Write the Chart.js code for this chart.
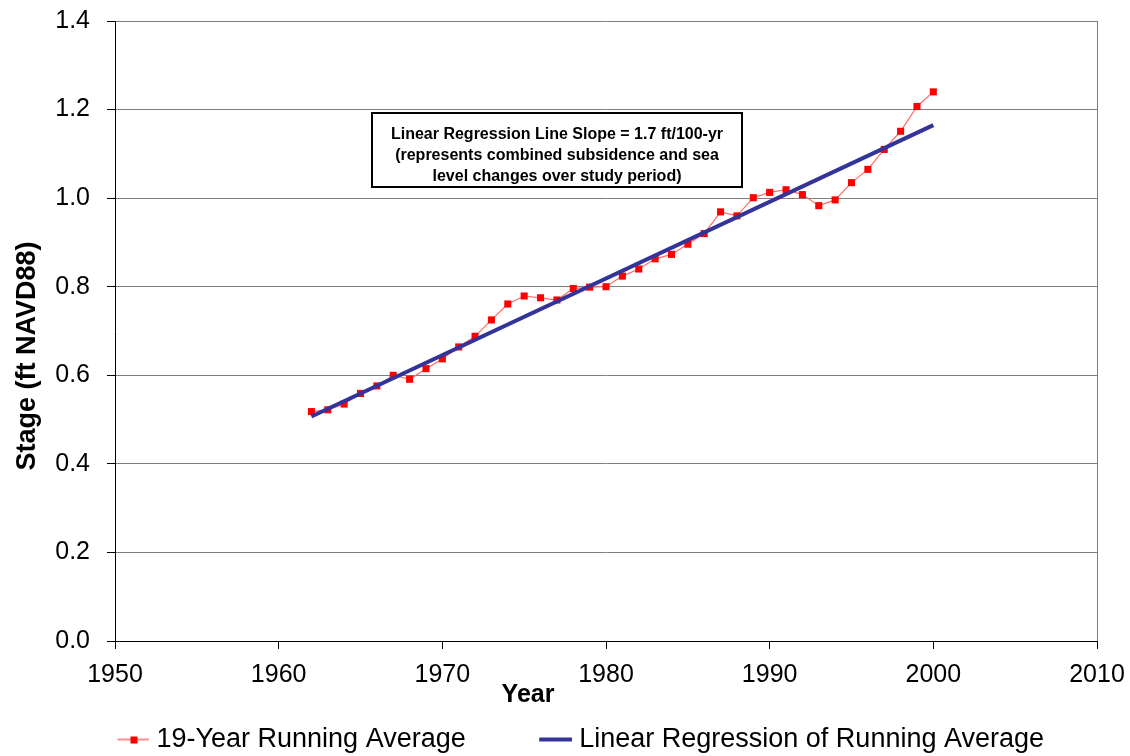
<!DOCTYPE html>
<html>
<head>
<meta charset="utf-8">
<script src="https://cdn.jsdelivr.net/npm/chart.js@4.4.0/dist/chart.umd.min.js"></script>
<style>
  html, body { margin: 0; padding: 0; background: #ffffff; }
  #wrap { width: 1130px; height: 756px; }
</style>
</head>
<body>
<div id="wrap"><canvas id="chart" width="1130" height="756"></canvas></div>
<script>
// Stage record, 19-year running average (ft NAVD88)
const years = [1962, 1963, 1964, 1965, 1966, 1967, 1968, 1969, 1970, 1971,
               1972, 1973, 1974, 1975, 1976, 1977, 1978, 1979, 1980, 1981,
               1982, 1983, 1984, 1985, 1986, 1987, 1988, 1989, 1990, 1991,
               1992, 1993, 1994, 1995, 1996, 1997, 1998, 1999, 2000];
const runningAverage = [0.518, 0.522, 0.535, 0.559, 0.576, 0.600, 0.591, 0.615, 0.637, 0.664,
                        0.688, 0.725, 0.761, 0.779, 0.775, 0.770, 0.796, 0.799, 0.800, 0.824,
                        0.840, 0.863, 0.873, 0.896, 0.920, 0.969, 0.960, 1.001, 1.013, 1.019,
                        1.008, 0.983, 0.996, 1.035, 1.065, 1.110, 1.151, 1.207, 1.240];

// Fitted regression line, end points
const regressionYears = [1962, 2000];
const regressionStage = [0.507, 1.165];

// Axis ticks
const xTickValues = [1950, 1960, 1970, 1980, 1990, 2000, 2010];
const yTickValues = [0.0, 0.2, 0.4, 0.6, 0.8, 1.0, 1.2, 1.4];

const seriesNames = ['19-Year Running Average', 'Linear Regression of Running Average'];
const xTitle = 'Year';
const yTitle = 'Stage (ft NAVD88)';
const noteLines = [
  'Linear Regression Line Slope = 1.7 ft/100-yr',
  '(represents combined subsidence and sea',
  'level changes over study period)'
];

const FONT = '"Liberation Sans", Arial, Helvetica, sans-serif';
const RED = '#ff0000';
const RED_LINE = '#ff6a6a';
const NAVY = '#333399';
const GRID = '#7f7f7f';

// Legend swatches: short line segment drawn at the right end of a wide transparent strip
function swatch(kind) {
  const c = document.createElement('canvas');
  c.width = 103; c.height = 12;
  const g = c.getContext('2d');
  if (kind === 'avg') {
    g.strokeStyle = RED_LINE; g.lineWidth = 1.5;
    g.beginPath(); g.moveTo(71, 6); g.lineTo(103, 6); g.stroke();
    g.fillStyle = RED; g.fillRect(84, 3, 7, 7);
  } else {
    g.strokeStyle = NAVY; g.lineWidth = 4;
    g.beginPath(); g.moveTo(70, 6); g.lineTo(103, 6); g.stroke();
  }
  return c;
}
const swatches = [swatch('avg'), swatch('reg')];

// Axis titles and the boxed note
const decorations = {
  id: 'decorations',
  afterDraw(chart) {
    const ctx = chart.ctx;
    const area = chart.chartArea;
    ctx.save();
    ctx.fillStyle = '#000';
    ctx.font = 'bold 27px ' + FONT;
    ctx.textAlign = 'center';
    ctx.textBaseline = 'middle';
    ctx.translate(28, 356);
    ctx.rotate(-Math.PI / 2);
    ctx.fillText(yTitle, 0, 0);
    ctx.restore();

    ctx.save();
    ctx.fillStyle = '#000';
    ctx.font = 'bold 25px ' + FONT;
    ctx.textAlign = 'center';
    ctx.textBaseline = 'middle';
    ctx.fillText(xTitle, 528, area.bottom + 54);
    ctx.restore();
  },
  afterDatasetsDraw(chart) {
    const ctx = chart.ctx;
    const bx = 372, by = 113, bw = 370, bh = 74;
    ctx.save();
    ctx.fillStyle = '#ffffff';
    ctx.fillRect(bx, by, bw, bh);
    ctx.strokeStyle = '#000';
    ctx.lineWidth = 2;
    ctx.strokeRect(bx, by, bw, bh);
    ctx.fillStyle = '#000';
    ctx.font = 'bold 16px ' + FONT;
    ctx.textAlign = 'center';
    ctx.textBaseline = 'alphabetic';
    noteLines.forEach((t, i) => ctx.fillText(t, bx + bw / 2, by + 26 + i * 21));
    ctx.restore();
  }
};

new Chart(document.getElementById('chart'), {
  type: 'line',
  data: {
    datasets: [
      {
        label: seriesNames[0],
        data: years.map((y, i) => ({ x: y, y: runningAverage[i] })),
        borderColor: RED_LINE,
        borderWidth: 1.2,
        pointStyle: 'rect',
        pointRadius: 5,
        pointBackgroundColor: RED,
        pointBorderColor: RED,
        pointBorderWidth: 0,
        tension: 0,
        order: 1
      },
      {
        label: seriesNames[1],
        data: regressionYears.map((y, i) => ({ x: y, y: regressionStage[i] })),
        borderColor: NAVY,
        borderWidth: 4,
        pointRadius: 0,
        tension: 0,
        order: 0
      }
    ]
  },
  options: {
    responsive: false,
    animation: false,
    devicePixelRatio: 1,
    layout: { padding: { left: 0, right: 33, top: 21, bottom: -7 } },
    scales: {
      x: {
        type: 'linear',
        min: 1950,
        max: 2010,
        afterBuildTicks: s => { s.ticks = xTickValues.map(v => ({ value: v })); },
        afterFit: s => { s.height = 75; s.paddingLeft = 0; s.paddingRight = 0; },
        ticks: {
          callback: v => String(v),
          font: { family: FONT, size: 25 },
          color: '#000',
          padding: 11,
          maxRotation: 0,
          autoSkip: false
        },
        grid: {
          drawOnChartArea: true,
          color: c => (c.tick && c.tick.value === 2010) ? GRID : 'rgba(0,0,0,0)',
          tickColor: '#000',
          tickLength: 8,
          lineWidth: 1
        },
        border: { color: '#000', width: 1 }
      },
      y: {
        min: 0,
        max: 1.4,
        afterBuildTicks: s => { s.ticks = yTickValues.map(v => ({ value: v })); },
        afterFit: s => { s.width = 115; s.paddingTop = 0; s.paddingBottom = 0; },
        ticks: {
          callback: v => Number(v).toFixed(1),
          font: { family: FONT, size: 25 },
          color: '#000',
          padding: 17,
          autoSkip: false
        },
        grid: {
          drawOnChartArea: true,
          color: c => (c.tick && c.tick.value > 0.05) ? GRID : 'rgba(0,0,0,0)',
          tickColor: '#000',
          tickLength: 8,
          lineWidth: 1
        },
        border: { color: '#000', width: 1 }
      }
    },
    plugins: {
      title: { display: false },
      tooltip: { enabled: false },
      legend: {
        display: true,
        position: 'bottom',
        labels: {
          usePointStyle: true,
          pointStyleWidth: 90,
          padding: 10,
          color: '#000',
          font: { family: FONT, size: 27 },
          generateLabels: chart => chart.data.datasets.map((d, i) => ({
            text: d.label,
            pointStyle: swatches[i],
            fillStyle: 'rgba(0,0,0,0)',
            strokeStyle: 'rgba(0,0,0,0)',
            lineWidth: 0,
            hidden: false,
            datasetIndex: i
          }))
        }
      }
    }
  },
  plugins: [decorations]
});
</script>
</body>
</html>
